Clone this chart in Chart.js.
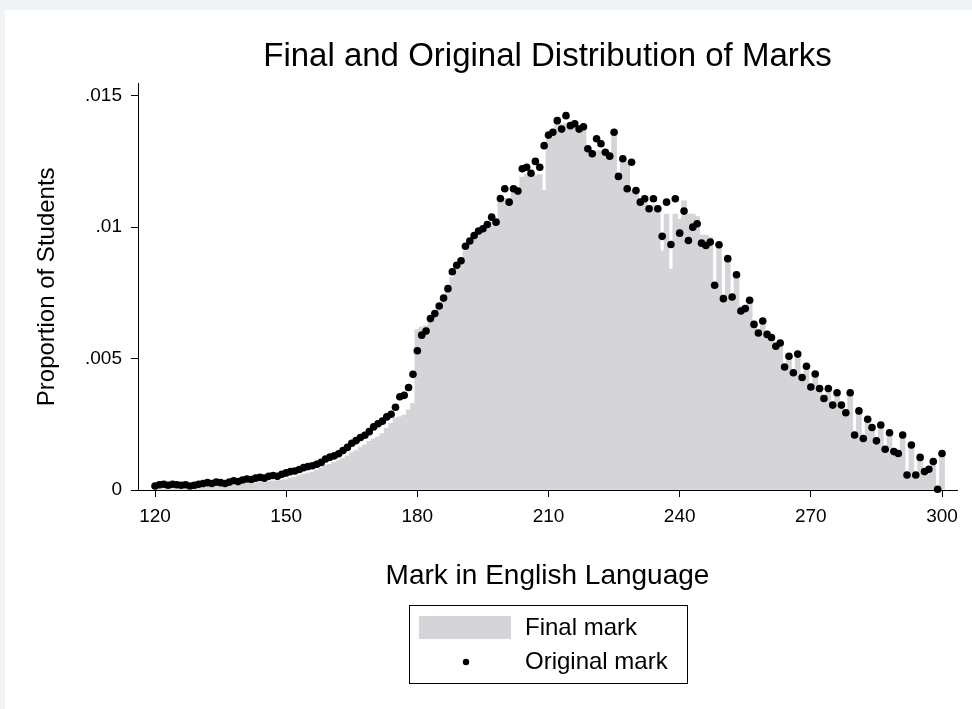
<!DOCTYPE html>
<html>
<head>
<meta charset="utf-8">
<title>Final and Original Distribution of Marks</title>
<script src="https://cdn.jsdelivr.net/npm/chart.js@4.4.1/dist/chart.umd.min.js"></script>
<style>
  html, body { margin: 0; padding: 0; background: #fff; }
  canvas { display: block; }
</style>
</head>
<body>
<canvas id="marksChart" width="972" height="709"></canvas>
<script>
// marks 120..300, one bin per mark
const marks = Array.from({ length: 181 }, (_, i) => 120 + i)

// proportion of students at each mark
const finalMark = [
    .00004, .00006, .00005, .00007, .00006, .00008, .00007, .00009, .00008, .00010,
    .00011, .00010, .00013, .00012, .00015, .00014, .00016, .00018, .00017, .00021,
    .00022, .00024, .00023, .00027, .00029, .00028, .00032, .00035, .00034, .00038,
    .00040, .00045, .00048, .00055, .00060, .00064, .00068, .00076, .00084, .00095,
    .00098, .00105, .00112, .00120, .00130, .00142, .00150, .00162, .00172, .00185,
    .00195, .00202, .00215, .00235, .00255, .00275, .00278, .00285, .00305, .00330,
    .00610, .00620, .00625, .00650, .00670, .00690, .00720, .00760, .00810, .00840,
    .00860, .00910, .00935, .00960, .00980, .00990, .01000, .01020, .01030, .01100,
    .01110, .01100, .01150, .01150, .01190, .01200, .01200, .01195, .01200, .01140,
    .01340, .01360, .01400, .01390, .01395, .01390, .01380, .01385, .01380, .01300,
    .01280, .01290, .01290, .01280, .01280, .01360, .01180, .01255, .01250, .01140,
    .01130, .01100, .01095, .01080, .01085, .01070, .00910, .01050, .00840, .01050,
    .01030, .01100, .01050, .01050, .01040, .00970, .00970, .00960, .00785, .00940,
    .00730, .00875, .00730, .00820, .00700, .00700, .00720, .00635, .00600, .00645,
    .00595, .00585, .00550, .00560, .00475, .00510, .00450, .00520, .00430, .00470,
    .00395, .00440, .00390, .00350, .00385, .00325, .00370, .00325, .00295, .00370,
    .00210, .00300, .00200, .00270, .00240, .00190, .00245, .00160, .00220, .00150,
    .00140, .00210, .00060, .00170, .00060, .00125, .00070, .00080, .00110, .00000,
    .00140
]

const originalMark = [
    .00015, .00020, .00022, .00018, .00022, .00020, .00018, .00020, .00015, .00018,
    .00022, .00025, .00028, .00025, .00030, .00028, .00025, .00030, .00035, .00032,
    .00038, .00042, .00040, .00045, .00048, .00045, .00052, .00055, .00052, .00060,
    .00065, .00070, .00072, .00078, .00085, .00089, .00092, .00098, .00105, .00118,
    .00125, .00130, .00138, .00150, .00162, .00178, .00188, .00200, .00208, .00222,
    .00240, .00252, .00262, .00278, .00288, .00315, .00355, .00360, .00390, .00440,
    .00530, .00589, .00605, .00652, .00671, .00700, .00730, .00766, .00830, .00855,
    .00872, .00927, .00947, .00968, .00985, .00994, .01010, .01038, .01019, .01109,
    .01146, .01095, .01146, .01137, .01222, .01228, .01205, .01250, .01228, .01310,
    .01350, .01361, .01405, .01373, .01424, .01386, .01393, .01373, .01382, .01298,
    .01279, .01336, .01317, .01285, .01270, .01361, .01193, .01260, .01146, .01247,
    .01139, .01095, .01108, .01070, .01108, .01070, .00965, .01095, .00934, .01108,
    .00977, .01061, .00949, .01000, .01013, .00939, .00930, .00943, .00779, .00933,
    .00728, .00880, .00734, .00819, .00681, .00690, .00722, .00630, .00597, .00643,
    .00592, .00580, .00547, .00559, .00468, .00509, .00446, .00517, .00428, .00471,
    .00392, .00441, .00386, .00348, .00386, .00323, .00370, .00323, .00294, .00370,
    .00209, .00301, .00196, .00269, .00238, .00187, .00247, .00155, .00218, .00146,
    .00139, .00209, .00057, .00171, .00057, .00124, .00070, .00079, .00108, .00003,
    .00139
]

const xTicks      = [120, 150, 180, 210, 240, 270, 300]
const yTicks      = [0, .005, .01, .015]
const yTickLabels = ['0', '.005', '.01', '.015']

const FONT = "'Liberation Sans', Arial, sans-serif"
Chart.defaults.font.family = FONT
Chart.defaults.color = '#000'

// light frame round the white page
const frame = {
    id: 'frame',
    beforeDraw(chart) {
        const { ctx, width, height } = chart
        ctx.save()
        ctx.fillStyle = '#f1f4f7'
        ctx.fillRect(0, 0, width, height)
        ctx.fillStyle = '#fff'
        ctx.fillRect(5, 10, width - 5, height - 10)
        ctx.restore()
    }
}

// stata-like legend: two stacked rows inside a box under the x title
const boxedLegend = {
    id: 'boxedLegend',
    afterDraw(chart, args, opts) {
        const { ctx, chartArea } = chart
        const dots = chart.data.datasets[0]
        const bars = chart.data.datasets[1]
        const cx   = (chartArea.left + chartArea.right) / 2
        const left = Math.round(cx - opts.width / 2)
        const top  = Math.round(chart.scales.x.bottom + opts.gap)

        ctx.save()
        ctx.strokeStyle = '#000'
        ctx.lineWidth = 1
        ctx.strokeRect(left + .5, top + .5, opts.width, opts.height)

        ctx.fillStyle = bars.backgroundColor
        ctx.fillRect(left + 10, top + 11, 92, 23)

        ctx.fillStyle = dots.backgroundColor
        ctx.beginPath()
        ctx.arc(left + 57, top + 57, 3.2, 0, Math.PI * 2)
        ctx.fill()

        ctx.fillStyle = '#000'
        ctx.font = opts.fontSize + 'px ' + FONT
        ctx.textBaseline = 'middle'
        ctx.fillText(bars.label, left + 116, top + 23)
        ctx.fillText(dots.label, left + 116, top + 57)
        ctx.restore()
    }
}

new Chart(document.getElementById('marksChart'), {
    type: 'bar',
    data: {
        datasets: [
            {
                type: 'scatter',
                label: 'Original mark',
                data: marks.map((m, i) => ({ x: m, y: originalMark[i] })),
                backgroundColor: '#000',
                borderWidth: 0,
                pointRadius: 3.8,
                clip: false,
            },
            {
                type: 'bar',
                label: 'Final mark',
                data: marks.map((m, i) => ({ x: m, y: finalMark[i] })),
                backgroundColor: '#d5d4d9',
                borderWidth: 0,
                barThickness: 5,
            }
        ]
    },
    options: {
        responsive: false,
        animation: false,
        devicePixelRatio: 1,
        layout: { padding: { left: 0, right: 15, top: 0, bottom: 109 } },
        plugins: {
            legend: { display: false },
            tooltip: { enabled: false },
            title: {
                display: true,
                text: 'Final and Original Distribution of Marks',
                fullSize: false,
                color: '#000',
                font: { size: 33, weight: 'normal' },
                padding: { top: 37, bottom: 7 },
            },
            boxedLegend: { width: 278, height: 78, gap: 5, fontSize: 24 },
        },
        scales: {
            x: {
                type: 'linear',
                min: 116.11,
                max: 303.43,
                offset: false,
                afterBuildTicks: scale => { scale.ticks = xTicks.map(v => ({ value: v })) },
                afterFit: scale => { scale.height = 110 },
                grid: { offset: false, drawOnChartArea: false, drawTicks: true, tickLength: 7, color: '#000' },
                border: { display: true, color: '#000', width: 1 },
                ticks: { color: '#000', font: { size: 19 }, padding: 8, maxRotation: 0, autoSkip: false },
                title: {
                    display: true,
                    text: 'Mark in English Language',
                    color: '#000',
                    font: { size: 28 },
                    padding: { top: 0, bottom: 7 },
                },
            },
            y: {
                min: 0,
                max: 0.01546,
                afterBuildTicks: scale => { scale.ticks = yTicks.map(v => ({ value: v })) },
                afterFit: scale => { scale.width = 138 },
                grid: { drawOnChartArea: false, drawTicks: true, tickLength: 7, color: '#000' },
                border: { display: true, color: '#000', width: 1 },
                ticks: {
                    color: '#000',
                    font: { size: 19 },
                    padding: 9,
                    autoSkip: false,
                    callback: (value, index) => yTickLabels[index],
                },
                title: {
                    display: true,
                    text: 'Proportion of Students',
                    color: '#000',
                    font: { size: 24 },
                    padding: { top: 33, bottom: 0 },
                },
            }
        }
    },
    plugins: [frame, boxedLegend]
})
</script>
</body>
</html>
